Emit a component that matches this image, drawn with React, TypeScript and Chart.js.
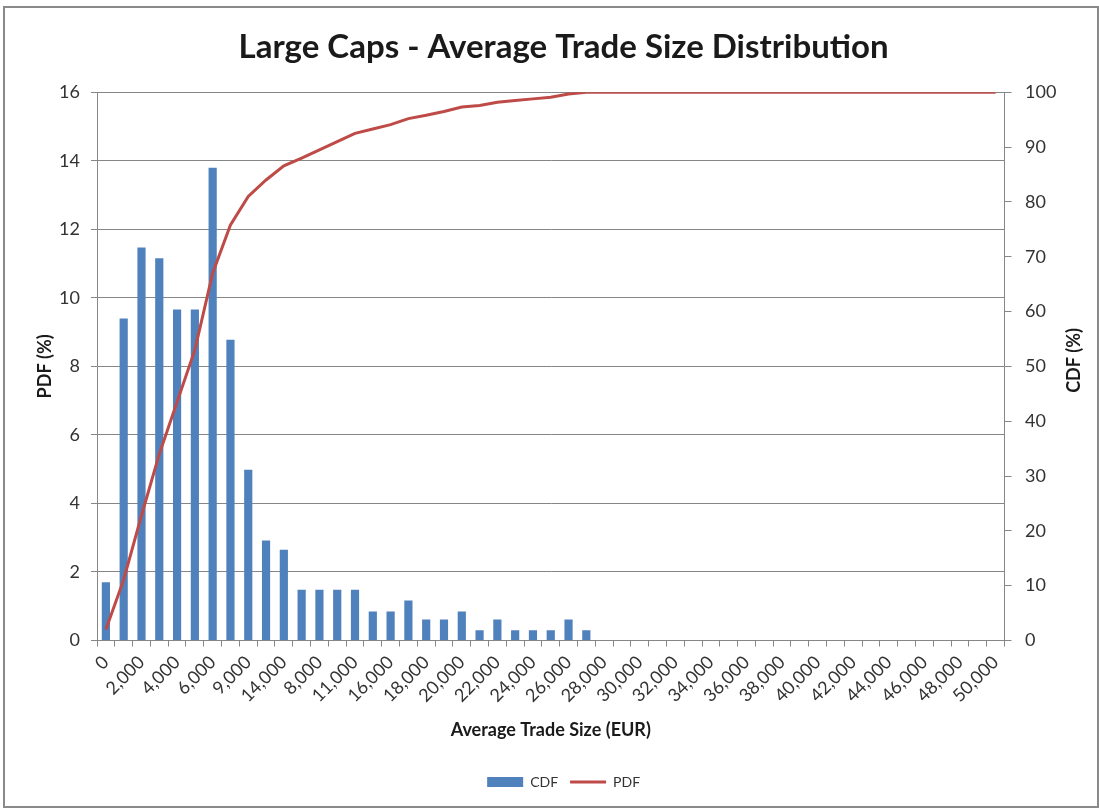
import React, { useEffect, useRef } from "react";
import { Chart, registerables } from "chart.js";

Chart.register(...registerables);

const chartTitle = "Large Caps - Average Trade Size Distribution";
const xTitle = "Average Trade Size (EUR)";
const leftTitle = "PDF (%)";
const rightTitle = "CDF (%)";
const barLabel = "CDF";
const lineLabel = "PDF";

const categories = [
  "0", "1,000", "2,000", "3,000", "4,000", "5,000", "6,000", "7,000", "9,000", "10,000",
  "14,000", "12,000", "8,000", "13,000", "11,000", "15,000", "16,000", "17,000", "18,000", "19,000",
  "20,000", "21,000", "22,000", "23,000", "24,000", "25,000", "26,000", "27,000", "28,000", "29,000",
  "30,000", "31,000", "32,000", "33,000", "34,000", "35,000", "36,000", "37,000", "38,000", "39,000",
  "40,000", "41,000", "42,000", "43,000", "44,000", "45,000", "46,000", "47,000", "48,000", "49,000",
  "50,000",
];

const barValues = [
  1.7, 9.4, 11.47, 11.16, 9.66, 9.66, 13.8, 8.78, 4.98, 2.92,
  2.65, 1.48, 1.48, 1.48, 1.48, 0.85, 0.85, 1.17, 0.61, 0.61,
  0.85, 0.3, 0.61, 0.3, 0.3, 0.3, 0.61, 0.3, 0, 0,
  0, 0, 0, 0, 0, 0, 0, 0, 0, 0,
  0, 0, 0, 0, 0, 0, 0, 0, 0, 0,
  0,
];

const lineValues = [
  2.0, 11.1, 22.8, 34.0, 43.5, 53.0, 67.0, 75.8, 81.0, 84.0,
  86.6, 88.0, 89.5, 91.0, 92.5, 93.3, 94.1, 95.2, 95.8, 96.5,
  97.3, 97.6, 98.2, 98.5, 98.8, 99.1, 99.7, 100, 100, 100,
  100, 100, 100, 100, 100, 100, 100, 100, 100, 100,
  100, 100, 100, 100, 100, 100, 100, 100, 100, 100,
  100,
];

const leftTicks = { min: 0, max: 16, step: 2 };
const rightTicks = { min: 0, max: 100, step: 10 };

const FONT = "Lato";
const GRID = "#868686";
const TEXT = "#333333";
const AXIS_TITLE_SIZE = 18;

const rightTitlePlugin = {
  id: "rightTitle",
  afterDraw(chart: any) {
    const { ctx, chartArea } = chart;
    const y1 = chart.scales.y1;
    ctx.save();
    ctx.translate(y1.right - 23, (chartArea.top + chartArea.bottom) / 2 - 6);
    ctx.rotate(-Math.PI / 2);
    ctx.font = `bold ${AXIS_TITLE_SIZE}px ${FONT}`;
    ctx.fillStyle = "#1a1a1a";
    ctx.textAlign = "center";
    ctx.textBaseline = "middle";
    ctx.fillText(rightTitle, 0, 0);
    ctx.restore();
  },
};

export default function App() {
  const canvasRef = useRef<HTMLCanvasElement | null>(null);

  useEffect(() => {
    if (!canvasRef.current) return;
    const chart = new Chart(canvasRef.current, {
      type: "bar",
      data: {
        labels: categories,
        datasets: [
          {
            type: "bar",
            label: barLabel,
            data: barValues,
            backgroundColor: "#4F81BD",
            borderWidth: 0,
            categoryPercentage: 1,
            barPercentage: 0.46,
            yAxisID: "y",
            order: 1,
            pointStyle: "rect",
          } as any,
          {
            type: "line",
            label: lineLabel,
            data: lineValues,
            borderColor: "#BE4B48",
            backgroundColor: "#BE4B48",
            borderWidth: 3,
            pointRadius: 0,
            tension: 0,
            fill: false,
            yAxisID: "y1",
            order: 0,
            pointStyle: "line",
          } as any,
        ],
      },
      options: {
        animation: false,
        responsive: true,
        maintainAspectRatio: false,
        layout: { padding: { left: 25.2, right: 0, top: 0, bottom: 7 } },
        plugins: {
          title: {
            display: true,
            text: chartTitle,
            color: "#1a1a1a",
            font: { family: FONT, size: 33, weight: "bold", lineHeight: 1.2 },
            padding: { top: 19.2, bottom: 25.5 },
          },
          legend: {
            position: "bottom",
            labels: {
              usePointStyle: true,
              pointStyleWidth: 36,
              boxHeight: 10,
              padding: 12,
              color: TEXT,
              font: { family: FONT, size: 14 },
              sort: (a: any, b: any) => a.datasetIndex - b.datasetIndex,
            },
          },
          tooltip: { enabled: false },
        },
        scales: {
          x: {
            type: "category",
            offset: true,
            grid: {
              display: true,
              drawOnChartArea: false,
              drawTicks: true,
              tickLength: 6,
              offset: true,
              color: GRID,
            },
            border: { display: true, color: GRID, width: 1 },
            ticks: {
              autoSkip: false,
              maxRotation: 45,
              minRotation: 45,
              padding: 5,
              color: TEXT,
              font: { family: FONT, size: 18 },
              callback: (_v: any, i: number) => (i % 2 === 0 ? categories[i] : ""),
            },
            title: {
              display: true,
              text: xTitle,
              color: "#1a1a1a",
              font: { family: FONT, size: AXIS_TITLE_SIZE, weight: "bold", lineHeight: 1.2 },
              padding: { top: 4, bottom: 22.2 },
            },
            afterFit: (s: any) => {
              s.height = 122.5;
            },
          },
          y: {
            type: "linear",
            position: "left",
            min: leftTicks.min,
            max: leftTicks.max,
            ticks: {
              stepSize: leftTicks.step,
              padding: 11,
              color: TEXT,
              font: { family: FONT, size: 18 },
            },
            grid: { color: GRID, tickLength: 6, drawTicks: true },
            border: { display: true, color: GRID, width: 1 },
            title: {
              display: true,
              text: leftTitle,
              color: "#1a1a1a",
              font: { family: FONT, size: AXIS_TITLE_SIZE, weight: "bold", lineHeight: 1.2 },
              padding: { top: 4, bottom: 4 },
            },
            afterFit: (s: any) => {
              s.width = 66.8;
            },
          },
          y1: {
            type: "linear",
            position: "right",
            min: rightTicks.min,
            max: rightTicks.max,
            ticks: {
              stepSize: rightTicks.step,
              padding: 13.5,
              color: TEXT,
              font: { family: FONT, size: 18 },
            },
            grid: { drawOnChartArea: false, color: GRID, tickLength: 7, drawTicks: true },
            border: { display: true, color: GRID, width: 1 },
            afterFit: (s: any) => {
              s.width = 92.5;
            },
          },
        },
      } as any,
      plugins: [rightTitlePlugin],
    });
    return () => chart.destroy();
  }, []);

  return (
    <div
      style={{
        position: "absolute",
        left: 3,
        top: 6,
        width: 1096,
        height: 802,
        border: "2px solid #8a8a8a",
        boxSizing: "border-box",
        background: "#fff",
      }}
    >
      <div style={{ position: "relative", width: 1092, height: 798 }}>
        <canvas ref={canvasRef} />
      </div>
    </div>
  );
}
